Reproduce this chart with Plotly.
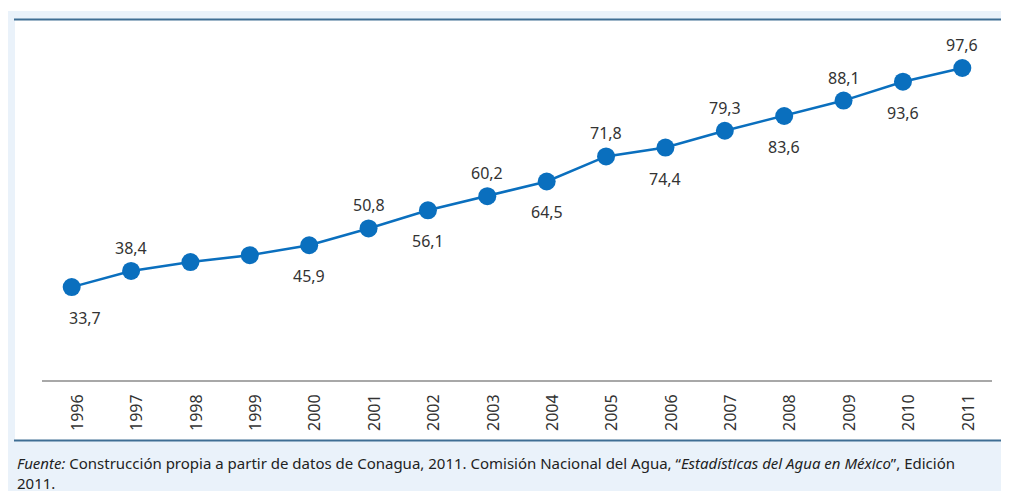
import plotly.graph_objects as go

years = [1996, 1997, 1998, 1999, 2000, 2001, 2002, 2003, 2004, 2005, 2006, 2007, 2008, 2009, 2010, 2011]
values = [33.7, 38.4, 41.0, 43.0, 45.9, 50.8, 56.1, 60.2, 64.5, 71.8, 74.4, 79.3, 83.6, 88.1, 93.6, 97.6]
# label placement: 'above', 'below' or None (no label)
label_pos = ['below', 'above', None, None, 'below', 'above', 'below', 'above', 'below',
             'above', 'below', 'above', 'below', 'above', 'below', 'above']
tick_labels = [str(y) for y in years]

# page body has an 8px margin; figure coordinates are page coordinates minus 8
OFF = 8
W, H = 1009 - OFF, 491 - OFF
L, R, T, B = 42 - OFF, 1009 - 992, 20 - OFF, 491 - 380
PW, PH = W - L - R, H - T - B


def px_x(p):
    """page pixel x -> paper coordinate"""
    return (p - OFF - L) / PW


def px_y(p):
    """page pixel y -> paper coordinate"""
    return (H - B - (p - OFF)) / PH


fig = go.Figure()
fig.add_trace(go.Scatter(
    x=years, y=values, mode='lines+markers',
    line=dict(color='#0A6FBE', width=2.5),
    marker=dict(color='#0A6FBE', size=18),
    hoverinfo='skip', showlegend=False,
))

annotations = []
for i, (yr, v, pos) in enumerate(zip(years, values, label_pos)):
    if pos is None:
        continue
    annotations.append(dict(
        x=yr, y=v, xref='x', yref='y', showarrow=False,
        text=f"{v:.1f}".replace('.', ','),
        font=dict(family='Noto Sans', size=16, color='#333333'),
        yanchor='middle', xanchor='center',
        yshift=23 if pos == 'above' else -31,
        xshift=13 if i == 0 else 0,
    ))

# footnote
annotations.append(dict(
    x=px_x(15), y=px_y(451), xref='paper', yref='paper', showarrow=False,
    xanchor='left', yanchor='top', align='left',
    text="<i>Fuente:</i> Construcción propia a partir de datos de Conagua, 2011. Comisión Nacional del Agua, "
         "“<i>Estadísticas del Agua en México</i>”, Edición<br>2011.",
    font=dict(family='Noto Sans', size=15, color='#222222'),
))

shapes = [
    # light blue panel
    dict(type='rect', xref='paper', yref='paper', x0=px_x(8), x1=px_x(1012), y0=px_y(495), y1=px_y(11),
         fillcolor='#EAF2FA', line=dict(width=0), layer='below'),
    # white chart area
    dict(type='rect', xref='paper', yref='paper', x0=px_x(15), x1=px_x(1012), y0=px_y(440), y1=px_y(20),
         fillcolor='white', line=dict(width=0), layer='below'),
    # top dark line
    dict(type='line', xref='paper', yref='paper', x0=px_x(14), x1=px_x(1012), y0=px_y(19.5), y1=px_y(19.5),
         line=dict(color='#3F6E94', width=2)),
    # bottom dark line
    dict(type='line', xref='paper', yref='paper', x0=px_x(14), x1=px_x(1012), y0=px_y(440.5), y1=px_y(440.5),
         line=dict(color='#3F6E94', width=2)),
]

fig.update_layout(
    width=W, height=H,
    margin=dict(l=L, r=R, t=T, b=B, pad=0),
    paper_bgcolor='white', plot_bgcolor='rgba(0,0,0,0)',
    shapes=shapes, annotations=annotations,
    xaxis=dict(
        range=[years[0] - 0.5, years[-1] + 0.5],
        tickmode='array', tickvals=years, ticktext=tick_labels,
        tickangle=-90, showgrid=False, zeroline=False,
        showline=True, linecolor='#A8A8A8', linewidth=2,
        ticks='', ticklabelstandoff=6, ticklabelshift=6,
        tickfont=dict(family='Noto Sans', size=16, color='#333333'),
    ),
    yaxis=dict(
        range=[6.6, 111.6], visible=False, showgrid=False, zeroline=False,
    ),
)

fig.write_html("out.html")
